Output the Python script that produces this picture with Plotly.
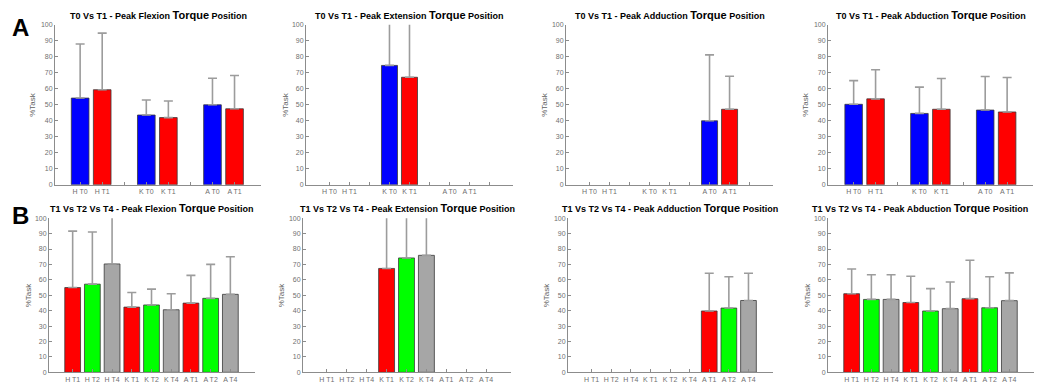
import plotly.graph_objects as go

W, H = 1045, 385

joints = ["H", "K", "A"]
times_a = ["T0", "T1"]
times_b = ["T1", "T2", "T4"]
colors_a = ["#0000FF", "#FF0000"]
colors_b = ["#FF0000", "#00FF00", "#A6A6A6"]
yticks = [0, 10, 20, 30, 40, 50, 60, 70, 80, 90, 100]

titles_a = ["T0 Vs T1 - Peak Flexion", "T0 Vs T1 - Peak Extension",
            "T0 Vs T1 - Peak Adduction", "T0 Vs T1 - Peak Abduction"]
titles_b = ["T1 Vs T2 Vs T4 - Peak Flexion", "T1 Vs T2 Vs T4 - Peak Extension",
            "T1 Vs T2 Vs T4 - Peak Adduction", "T1 Vs T2 Vs T4 - Peak Abduction"]

# Row A: means / SD per joint (H, K, A) for T0 and T1
flex_a_mean = [[54.2, 43.6, 50.0], [59.4, 42.0, 47.5]]
flex_a_sd = [[33.8, 9.4, 16.6], [35.4, 10.4, 20.8]]
ext_a_mean = [[None, 74.6, None], [None, 67.2, None]]
ext_a_sd = [[None, 40.0, None], [None, 45.0, None]]
add_a_mean = [[None, None, 40.0], [None, None, 47.2]]
add_a_sd = [[None, None, 41.2], [None, None, 20.6]]
abd_a_mean = [[50.3, 44.6, 46.7], [53.7, 47.2, 45.5]]
abd_a_sd = [[14.8, 16.4, 21.0], [18.2, 19.2, 21.5]]

# Row B: T1, T2, T4
flex_b_mean = [[55.0, 42.3, 44.9], [57.2, 43.7, 48.0], [70.3, 40.6, 50.6]]
flex_b_sd = [[36.6, 9.5, 18.0], [33.8, 10.3, 22.0], [35.0, 10.4, 24.4]]
ext_b_mean = [[None, 67.4, None], [None, 74.2, None], [None, 75.9, None]]
ext_b_sd = [[None, 40.0, None], [None, 40.0, None], [None, 40.0, None]]
add_b_mean = [[None, None, 39.8], [None, None, 41.7], [None, None, 46.6]]
add_b_sd = [[None, None, 24.5], [None, None, 20.3], [None, None, 17.7]]
abd_b_mean = [[51.0, 45.3, 47.8], [47.3, 39.8, 41.9], [47.3, 41.3, 46.5]]
abd_b_sd = [[16.0, 17.0, 24.9], [16.0, 14.5, 20.1], [16.0, 17.3, 18.0]]

panels_a = [(flex_a_mean, flex_a_sd), (ext_a_mean, ext_a_sd),
            (add_a_mean, add_a_sd), (abd_a_mean, abd_a_sd)]
panels_b = [(flex_b_mean, flex_b_sd), (ext_b_mean, ext_b_sd),
            (add_b_mean, add_b_sd), (abd_b_mean, abd_b_sd)]

# layout geometry (pixels)
xdom_a = [(47, 253), (298, 505), (558, 765), (820, 1025)]
xdom_b = [(41, 247), (295, 503), (560, 765), (820, 1026)]
xrng_a = [(-0.14, 9.2), (-0.17, 10.17), (-0.17, 10.17), (-0.17, 9.18)]
xrng_b = [(-0.2, 10.25)] * 4
ytop_a, ybot_a = 13, 176
ytop_b, ybot_b = 210, 367
ylab_x_a = [25, 278, 537, 798]
ylab_x_b = [20, 273, 538, 799]
title_cx_b = [144, 399, 662, 912]

FONT = "Liberation Sans"
GRAY = "#8c8c8c"

fig = go.Figure()
layout = {}
annotations = []

def add_panel(idx, means, sds, times, colors, xdom, xrng, ytop, ybot, title, ylx, four_blank, tsize, tcx):
    n = len(times)
    for t in range(n):
        xs, ys, es = [], [], []
        for j in range(3):
            xs.append(j * 3 + t + 1)
            ys.append(means[t][j])
            es.append(sds[t][j])
        fig.add_trace(go.Bar(
            x=xs, y=ys, width=0.8,
            marker=dict(color=colors[t], line=dict(color="#3a3a3a", width=0.8)),
            error_y=dict(type="data", array=es, symmetric=False,
                         arrayminus=[0] * 3, color="#9c9c9c",
                         thickness=1.6, width=4.5),
            xaxis="x%d" % idx, yaxis="y%d" % idx, showlegend=False,
        ))
    if n == 2:
        tickvals, ticktext = [], []
        last = 8 if four_blank else 9
        for p in range(1, last + 1):
            tickvals.append(p)
            g, r = divmod(p - 1, 3)
            ticktext.append("%s %s" % (joints[g], times[r]) if r < 2 else "")
    else:
        tickvals = list(range(1, 10))
        ticktext = ["%s %s" % (joints[(p - 1) // 3], times[(p - 1) % 3]) for p in tickvals]
    xa = dict(domain=[xdom[0] / W, xdom[1] / W], range=list(xrng),
              anchor="y%d" % idx, tickvals=tickvals, ticktext=ticktext, tickangle=0,
              ticks="inside", ticklen=3, tickcolor=GRAY, showline=True,
              linecolor=GRAY, linewidth=1, showgrid=False, zeroline=False,
              tickfont=dict(family=FONT, size=7, color="#707070"), fixedrange=True)
    ya = dict(domain=[(H - ybot) / H, (H - ytop) / H], range=[0, 100],
              anchor="x%d" % idx, tickvals=yticks, ticks="inside", ticklen=3,
              tickcolor=GRAY, showline=True, linecolor=GRAY, linewidth=1,
              showgrid=False, zeroline=False,
              tickfont=dict(family=FONT, size=7, color="#707070"), fixedrange=True)
    key = "" if idx == 1 else str(idx)
    layout["xaxis" + key] = xa
    layout["yaxis" + key] = ya
    cx = tcx if tcx is not None else (xdom[0] + xdom[1]) / 2
    annotations.append(dict(
        text="<b>%s <span style='font-size:%.1fpx'>Torque</span> Position</b>" % (title, tsize + 2),
        x=cx / W, y=(H - ytop + 2) / H, xref="paper", yref="paper",
        xanchor="center", yanchor="bottom", showarrow=False,
        font=dict(family=FONT, size=tsize, color="black")))
    annotations.append(dict(
        text="%Task", textangle=-90, x=ylx / W, y=(H - (ytop + ybot) / 2) / H,
        xref="paper", yref="paper", xanchor="center", yanchor="middle",
        showarrow=False, font=dict(family=FONT, size=8, color="#606060")))

for i in range(4):
    add_panel(i + 1, panels_a[i][0], panels_a[i][1], times_a, colors_a,
              xdom_a[i], xrng_a[i], ytop_a, ybot_a, titles_a[i], ylab_x_a[i],
              i in (0, 3), 9, None)
for i in range(4):
    add_panel(i + 5, panels_b[i][0], panels_b[i][1], times_b, colors_b,
              xdom_b[i], xrng_b[i], ytop_b, ybot_b, titles_b[i], ylab_x_b[i],
              False, 9, title_cx_b[i])

annotations.append(dict(text="<b>A</b>", x=2 / W, y=(H - 0) / H, xref="paper", yref="paper",
                        xanchor="left", yanchor="top", showarrow=False,
                        font=dict(family=FONT, size=24, color="black")))
annotations.append(dict(text="<b>B</b>", x=2 / W, y=(H - 191) / H, xref="paper", yref="paper",
                        xanchor="left", yanchor="top", showarrow=False,
                        font=dict(family=FONT, size=24, color="black")))

fig.update_layout(width=W, height=H, margin=dict(l=0, r=0, t=0, b=0),
                  paper_bgcolor="white", plot_bgcolor="white",
                  barmode="overlay", annotations=annotations, **layout)
fig.write_html("out.html")
